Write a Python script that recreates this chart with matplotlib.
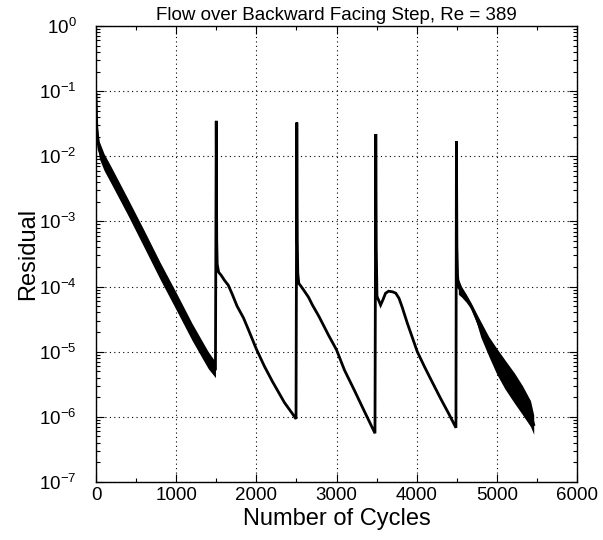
import matplotlib
matplotlib.use("Agg")
import matplotlib.pyplot as plt
from matplotlib.ticker import LogLocator, MultipleLocator, NullFormatter, FixedLocator

plt.rcParams['font.family'] = ['Liberation Sans', 'DejaVu Sans']
plt.rcParams['mathtext.default'] = 'regular'

title = "Flow over Backward Facing Step, Re = 389"
xlabel = "Number of Cycles"
ylabel = "Residual"
y_ticks = [1e-7, 1e-6, 1e-5, 1e-4, 1e-3, 1e-2, 1e-1, 1e0]

# Main residual history (cycle, residual)
cycles = [0, 5, 10, 20, 40, 70, 100, 150, 200, 300, 400, 500, 600, 700, 800, 900,
          1000, 1100, 1200, 1300, 1400, 1490,
          1500, 1506, 1512, 1530, 1560, 1600, 1650, 1700, 1760, 1840, 1900, 2000,
          2100, 2200, 2260, 2350, 2450, 2495,
          2505, 2511, 2517, 2530, 2560, 2600, 2650, 2700, 2780, 2900, 3000, 3100,
          3220, 3350, 3480,
          3490, 3496, 3505, 3550, 3580, 3612, 3650, 3700, 3740, 3780, 3820, 3883,
          4008, 4100, 4175, 4300, 4400, 4490,
          4496, 4502, 4510, 4520, 4560, 4620, 4680, 4750, 4800, 4900, 5000, 5100,
          5220, 5320, 5420, 5460]
residual = [8.9e-2, 5.0e-2, 2.8e-2, 1.8e-2, 1.26e-2, 1.0e-2, 8.3e-3, 6.3e-3, 4.8e-3,
            2.8e-3, 1.66e-3, 9.5e-4, 5.4e-4, 3.0e-4, 1.74e-4, 1.0e-4,
            6.0e-5, 3.5e-5, 2.0e-5, 1.12e-5, 7.4e-6, 5.2e-6,
            3.5e-2, 5.0e-4, 2.2e-4, 1.66e-4, 1.5e-4, 1.26e-4, 1.05e-4, 7.6e-5, 5.0e-5,
            3.3e-5, 2.2e-5, 1.1e-5, 6.0e-6, 3.5e-6, 2.6e-6, 1.66e-6, 1.12e-6, 9.3e-7,
            3.3e-2, 5.0e-4, 1.6e-4, 1.12e-4, 1.0e-4, 8.5e-5, 6.9e-5, 5.2e-5, 3.5e-5,
            1.8e-5, 1.07e-5, 5.2e-6, 2.6e-6, 1.2e-6, 5.6e-7,
            2.2e-2, 4.0e-4, 7.1e-5, 5.2e-5, 6.3e-5, 7.9e-5, 8.5e-5, 8.3e-5, 7.9e-5,
            6.6e-5, 4.8e-5, 2.75e-5, 1.0e-5, 5.8e-6, 3.8e-6, 1.9e-6, 1.12e-6, 6.8e-7,
            1.7e-2, 4.0e-4, 1.5e-4, 1.0e-4, 8.3e-5, 6.6e-5, 5.0e-5, 3.2e-5, 2.2e-5,
            1.2e-5, 7.1e-6, 4.5e-6, 2.75e-6, 1.8e-6, 1.12e-6, 7.6e-7]

# Oscillation envelope, first run
band1_cycles = [15, 40, 100, 200, 400, 600, 800, 1000, 1200, 1400, 1490]
band1_upper = [3.0e-2, 1.7e-2, 1.1e-2, 6.5e-3, 2.2e-3, 7.3e-4, 2.35e-4, 8.1e-5,
               2.7e-5, 1.0e-5, 7.0e-6]
band1_lower = [1.6e-2, 9.3e-3, 6.1e-3, 3.6e-3, 1.23e-3, 4.0e-4, 1.29e-4, 4.4e-5,
               1.48e-5, 5.5e-6, 4.0e-6]

# Oscillation envelope, last run
band5_cycles = [4520, 4560, 4620, 4680, 4750, 4800, 4900, 5000, 5100, 5220, 5320,
                5420, 5460]
band5_upper = [1.32e-4, 1.0e-4, 7.6e-5, 5.6e-5, 3.8e-5, 2.9e-5, 1.7e-5, 1.12e-5,
               7.5e-6, 4.7e-6, 3.0e-6, 1.77e-6, 1.07e-6]
band5_lower = [7.6e-5, 6.9e-5, 5.7e-5, 4.5e-5, 2.7e-5, 1.67e-5, 8.5e-6, 4.5e-6,
               2.7e-6, 1.62e-6, 1.08e-6, 7.1e-7, 5.4e-7]

fig = plt.figure(figsize=(6.03, 5.40), dpi=100)
ax = fig.add_axes([96 / 603, 1 - 482 / 540, (577 - 96) / 603, (482 - 26) / 540])

ax.fill_between(band1_cycles, band1_lower, band1_upper, color='black', lw=0)
ax.fill_between(band5_cycles, band5_lower, band5_upper, color='black', lw=0)
ax.plot(cycles, residual, color='black', lw=2.0, solid_joinstyle='miter')

ax.set_yscale('log')
ax.set_xlim(0, 6000)
ax.set_ylim(1e-7, 1e0)
ax.xaxis.set_major_locator(MultipleLocator(1000))
ax.xaxis.set_minor_locator(MultipleLocator(500))
ax.yaxis.set_major_locator(FixedLocator(y_ticks))
ax.yaxis.set_minor_locator(LogLocator(base=10, subs=range(2, 10), numticks=20))
ax.yaxis.set_minor_formatter(NullFormatter())

ax.grid(True, which='major', linestyle=(0, (1, 3)), color='black', lw=0.8)
ax.tick_params(which='both', direction='in', top=True, right=True, labelsize=13.5)
ax.tick_params(which='major', length=6, width=0.8)
ax.tick_params(which='minor', length=3, width=0.8)
ax.tick_params(axis='y', which='major', pad=14)
for s in ax.spines.values():
    s.set_linewidth(1.0)

ax.set_title(title, fontsize=13.5, pad=4)
ax.set_xlabel(xlabel, fontsize=17, labelpad=3)
ax.set_ylabel(ylabel, fontsize=17, labelpad=0)

fig.savefig("out.png", dpi=100)
